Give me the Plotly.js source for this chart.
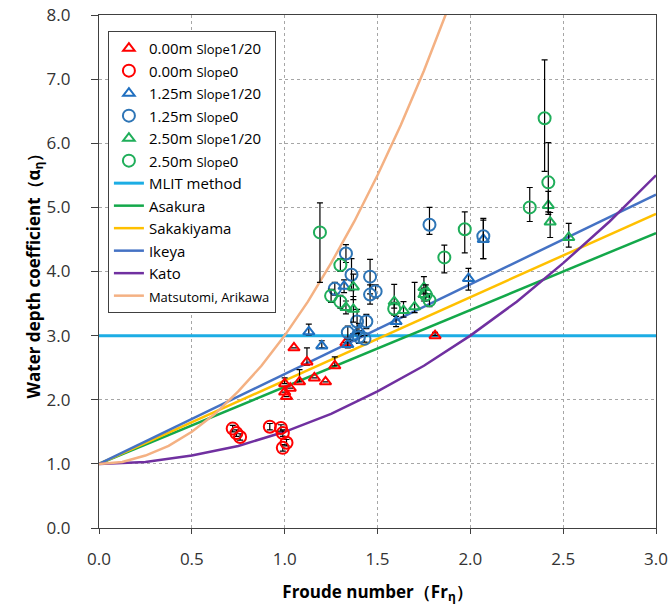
<!DOCTYPE html>
<html>
<head>
<meta charset="utf-8">
<script src="https://cdn.plot.ly/plotly-3.0.1.min.js"></script>
<style>html,body{margin:0;padding:0;background:#fff;}#chart{width:670px;height:608px;}</style>
</head>
<body>
<div id="chart"></div>
<script>
// ---- measured series (Froude number vs water depth coefficient) ----
var r20_x = [1.05, 1.12, 1.00, 1.00, 1.01, 1.03, 1.08, 1.16, 1.22, 1.27, 1.33, 1.81];
var r20_y = [2.81, 2.59, 2.25, 2.12, 2.05, 2.18, 2.28, 2.34, 2.28, 2.53, 2.89, 3.00];
var r20_ep = [0, 0.22, 0.09, 0, 0, 0, 0.19, 0, 0, 0.14, 0, 0.05];
var r20_em = [0, 0.05, 0, 0, 0, 0, 0, 0, 0, 0, 0, 0];

var r0_x = [0.72, 0.74, 0.76, 0.92, 0.98, 0.99, 1.01, 0.99];
var r0_y = [1.55, 1.48, 1.42, 1.58, 1.56, 1.48, 1.33, 1.25];
var r0_ep = [0.05, 0.05, 0.05, 0.05, 0.05, 0.05, 0.05, 0.05];
var r0_em = [0.05, 0.05, 0.05, 0.05, 0.05, 0.05, 0.05, 0.05];

var b20_x = [1.13, 1.20, 1.32, 1.34, 1.37, 1.40, 1.60, 1.99, 2.07];
var b20_y = [3.06, 2.84, 3.77, 2.86, 2.98, 3.09, 3.22, 3.89, 4.50];
var b20_ep = [0.12, 0.08, 0.10, 0.05, 0.05, 0.10, 0.08, 0.16, 0.30];
var b20_em = [0.05, 0.03, 0.10, 0.05, 0.05, 0.10, 0.08, 0.18, 0.30];

var b0_x = [1.33, 1.36, 1.46, 1.46, 1.49, 1.27, 1.39, 1.44, 1.34, 1.40, 1.43, 1.78, 2.07];
var b0_y = [4.28, 3.95, 3.92, 3.64, 3.69, 3.73, 3.22, 3.22, 3.05, 2.98, 2.95, 4.73, 4.55];
var b0_ep = [0.14, 0.25, 0.27, 0.15, 0.10, 0.10, 0.19, 0.11, 0.10, 0.10, 0.05, 0.27, 0.28];
var b0_em = [0.14, 0.25, 0.27, 0.15, 0.10, 0.10, 0.19, 0.11, 0.10, 0.10, 0.05, 0.15, 0.35];

var g20_x = [1.37, 1.33, 1.37, 1.59, 1.64, 1.70, 1.75, 1.75, 2.42, 2.43, 2.53];
var g20_y = [3.76, 3.44, 3.41, 3.53, 3.39, 3.45, 3.75, 3.64, 5.03, 4.77, 4.53];
var g20_ep = [0.20, 0.10, 0.20, 0.27, 0.14, 0.38, 0.17, 0.10, 0.22, 0.15, 0.22];
var g20_em = [0.20, 0.10, 0.20, 0.10, 0.10, 0.09, 0.10, 0.10, 0.10, 0.24, 0.15];

var g0_x = [1.19, 1.30, 1.25, 1.30, 1.59, 1.76, 1.78, 1.86, 1.97, 2.32, 2.40, 2.42];
var g0_y = [4.61, 4.10, 3.62, 3.53, 3.42, 3.64, 3.55, 4.22, 4.66, 5.00, 6.39, 5.39];
var g0_ep = [0.46, 0.10, 0.10, 0.10, 0.10, 0.15, 0.10, 0.19, 0.27, 0.31, 0.91, 0.62];
var g0_em = [0.78, 0.10, 0.10, 0.10, 0.10, 0.10, 0.10, 0.24, 0.37, 0.22, 0.83, 0.50];

// ---- estimation curves ----
var lin_x = [0.0, 0.5, 1.0, 1.5, 2.0, 2.5, 3.0];
var mlit_y = [3.0, 3.0, 3.0, 3.0, 3.0, 3.0, 3.0];
var asakura_y = [1.0, 1.6, 2.2, 2.8, 3.4, 4.0, 4.6];
var sakakiyama_y = [1.0, 1.65, 2.3, 2.95, 3.6, 4.25, 4.9];
var ikeya_y = [1.0, 1.7, 2.4, 3.1, 3.8, 4.5, 5.2];
var kato_x = [0.0, 0.25, 0.5, 0.75, 1.0, 1.25, 1.5, 1.75, 2.0, 2.25, 2.5, 2.75, 3.0];
var kato_y = [1.0, 1.03, 1.13, 1.28, 1.5, 1.78, 2.13, 2.53, 3.0, 3.53, 4.13, 4.78, 5.5];
var matsu_x = [0.0, 0.125, 0.25, 0.375, 0.5, 0.625, 0.75, 0.875, 1.0, 1.125, 1.25, 1.375, 1.5, 1.625, 1.75, 1.875, 2.0];
var matsu_y = [1.0, 1.03, 1.13, 1.28, 1.5, 1.78, 2.13, 2.53, 3.0, 3.53, 4.13, 4.78, 5.5, 6.28, 7.13, 8.03, 9.0];

var xTicks = [0, 0.5, 1.0, 1.5, 2.0, 2.5, 3.0];
var yTicks = [0, 1, 2, 3, 4, 5, 6, 7, 8];

var S = function (t) { return '<span style="font-size:13px">' + t + '</span>'; };
var names = [
  '0.00m ' + S('Slope') + '1/20',
  '0.00m ' + S('Slope') + '0',
  '1.25m ' + S('Slope') + '1/20',
  '1.25m ' + S('Slope') + '0',
  '2.50m ' + S('Slope') + '1/20',
  '2.50m ' + S('Slope') + '0'
];

function lineTrace(x, y, name, color, w, rank) {
  return {x: x, y: y, name: name, type: 'scatter', mode: 'lines',
    line: {color: color, width: w},
    legendrank: rank, hoverinfo: 'skip'};
}
function ptTrace(x, y, ep, em, name, color, sym, size, rank) {
  return {x: x, y: y, name: name, type: 'scatter', mode: 'markers',
    marker: {symbol: sym, size: size, color: color, line: {color: color, width: 2}},
    error_y: {type: 'data', symmetric: false, array: ep, arrayminus: em,
      color: '#000000', thickness: 1.2, width: 3},
    legendrank: rank};
}

var data = [
  lineTrace(lin_x, mlit_y, 'MLIT method', '#1CADE4', 3, 7),
  lineTrace(lin_x, asakura_y, 'Asakura', '#13A84A', 2.5, 8),
  lineTrace(lin_x, sakakiyama_y, 'Sakakiyama', '#FFC000', 2.5, 9),
  lineTrace(lin_x, ikeya_y, 'Ikeya', '#4472C4', 2.5, 10),
  lineTrace(kato_x, kato_y, 'Kato', '#7030A0', 2.5, 11),
  lineTrace(matsu_x, matsu_y, S('Matsutomi, Arikawa'), '#F4B183', 2.5, 12),
  ptTrace(r20_x, r20_y, r20_ep, r20_em, names[0], '#FF0000', 'triangle-up-open', 10, 1),
  ptTrace(r0_x, r0_y, r0_ep, r0_em, names[1], '#FF0000', 'circle-open', 12, 2),
  ptTrace(b20_x, b20_y, b20_ep, b20_em, names[2], '#1F6FC0', 'triangle-up-open', 10, 3),
  ptTrace(b0_x, b0_y, b0_ep, b0_em, names[3], '#2E75B6', 'circle-open', 12, 4),
  ptTrace(g20_x, g20_y, g20_ep, g20_em, names[4], '#1FAE5A', 'triangle-up-open', 10, 5),
  ptTrace(g0_x, g0_y, g0_ep, g0_em, names[5], '#1FAE5A', 'circle-open', 12, 6)
];

var axisCommon = {
  showline: true, linecolor: '#404040', linewidth: 1.2, mirror: true,
  showgrid: true, gridcolor: '#A6A6A6', griddash: 'dot', gridwidth: 1,
  zeroline: false, ticks: 'outside', tickcolor: '#404040',
  tickfont: {family: 'Open Sans, Noto Sans, sans-serif', size: 17, color: '#333333'}
};

var layout = {
  width: 670, height: 608,
  margin: {l: 99, r: 14, t: 15, b: 80},
  paper_bgcolor: '#ffffff', plot_bgcolor: '#ffffff',
  showlegend: true,
  font: {family: 'Open Sans, Noto Sans, sans-serif', color: '#000'},
  xaxis: Object.assign({}, axisCommon, {
    range: [0, 3.0], tickvals: xTicks, ticktext: xTicks.map(function (v) { return v.toFixed(1); }),
    ticklen: 5, ticklabelstandoff: 10,
    title: {text: '<b>Froude number（Fr<sub>η</sub>）</b>', font: {size: 17, color: '#000'}, standoff: 17}
  }),
  yaxis: Object.assign({}, axisCommon, {
    range: [0, 8.0], tickvals: yTicks, ticktext: yTicks.map(function (v) { return v.toFixed(1); }),
    ticklen: 7, ticklabelstandoff: 17,
    title: {text: '<b>Water depth coefficient（α<sub>η</sub>）</b>', font: {size: 17, color: '#000'}, standoff: 0}
  }),
  legend: {
    x: 0.016, y: 0.969, xanchor: 'left', yanchor: 'top',
    bgcolor: '#ffffff', bordercolor: '#404040', borderwidth: 1,
    font: {family: 'Open Sans, Noto Sans, sans-serif', size: 15, color: '#000'},
    tracegroupgap: 0, itemwidth: 30
  }
};

Plotly.newPlot('chart', data, layout, {displayModeBar: false, staticPlot: true});
</script>
</body>
</html>
